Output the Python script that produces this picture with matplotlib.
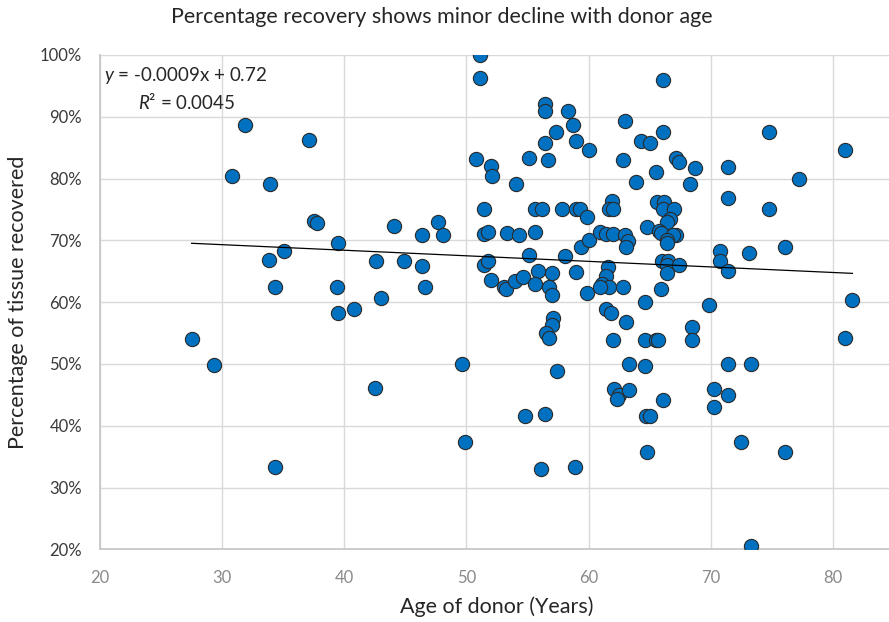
import numpy as np
import matplotlib.pyplot as plt
from matplotlib.ticker import PercentFormatter, MultipleLocator

plt.rcParams['font.family'] = ['Lato', 'DejaVu Sans']
plt.rcParams['mathtext.fontset'] = 'custom'
plt.rcParams['mathtext.rm'] = 'Lato'
plt.rcParams['mathtext.it'] = 'Lato:italic'

# donor age (years) and tissue recovered (%)
age = [
    27.5, 29.3, 30.8, 31.9, 33.8, 33.9, 34.3, 34.3, 35.1, 37.1,
    37.5, 37.8, 39.5, 39.4, 39.5, 40.8, 42.5, 42.6, 43.0, 44.1,
    44.9, 46.4, 46.4, 46.6, 47.7, 48.1, 49.6, 49.9,
    51.1, 51.1, 50.8, 52.0, 52.1, 54.1, 51.4, 51.4, 51.8, 53.3,
    54.3, 55.6, 51.4, 51.8, 52.0, 53.1, 53.2, 54.0, 54.6, 54.8,
    56.4, 56.4, 58.3, 58.7, 57.3, 56.4, 59.0, 60.0, 55.1, 56.7,
    55.6, 56.2, 57.8, 59.0, 59.3, 59.9, 55.1, 58.1, 55.9, 57.0,
    59.0, 55.6, 56.8, 57.0, 59.9, 59.4, 60.0, 57.1, 57.0, 56.5,
    56.8, 57.4, 56.4, 56.1, 58.9,
    66.1, 63.0, 66.1, 64.3, 65.0, 62.8, 67.2, 67.4, 68.7, 65.5,
    63.9, 68.3, 61.9, 61.7, 62.0, 60.9, 61.4, 62.0, 63.0, 63.2,
    63.1, 64.8, 65.6, 66.2, 66.1, 67.0, 66.7, 66.4, 65.8, 65.9,
    67.2, 66.9, 66.4, 66.4, 66.0, 66.5, 66.4, 67.4, 66.4, 65.9,
    61.6, 61.4, 61.1, 61.7, 60.9, 62.8, 64.6, 61.4, 61.8, 63.1,
    62.0, 64.6, 65.5, 65.7, 68.5, 68.5, 63.3, 64.6, 62.1, 62.5,
    62.3, 63.3, 66.1, 64.7, 65.0, 64.8, 69.9,
    74.8, 81.0, 71.4, 77.2, 71.4, 74.8, 76.1, 70.8, 70.8, 73.1,
    71.4, 81.6, 81.0, 71.4, 73.3, 70.3, 71.4, 70.3, 72.5, 76.1,
    73.3,
]
recovery = [
    54.1, 49.9, 80.4, 88.6, 66.9, 79.1, 62.4, 33.3, 68.3, 86.2,
    73.1, 72.8, 69.6, 62.5, 58.3, 58.9, 46.1, 66.7, 60.6, 72.3,
    66.7, 70.8, 65.8, 62.5, 72.9, 70.8, 50.0, 37.4,
    100.0, 96.2, 83.2, 82.0, 80.4, 79.2, 75.0, 71.0, 71.3, 71.2,
    70.9, 71.3, 66.0, 66.7, 63.6, 62.5, 62.1, 63.5, 64.0, 41.6,
    92.1, 90.9, 90.9, 88.7, 87.5, 85.7, 86.0, 84.6, 83.3, 83.0,
    75.0, 75.0, 75.0, 75.0, 75.0, 73.8, 67.7, 67.5, 65.1, 64.7,
    64.9, 63.0, 62.5, 61.2, 61.4, 69.0, 70.0, 57.4, 56.3, 55.0,
    54.2, 48.8, 41.9, 33.0, 33.3,
    96.0, 89.3, 87.5, 86.0, 85.7, 83.0, 83.3, 82.6, 81.7, 81.0,
    79.5, 79.2, 76.4, 75.0, 75.1, 71.3, 71.1, 71.0, 70.9, 69.9,
    68.9, 72.2, 76.2, 76.2, 75.0, 75.0, 73.5, 72.9, 71.5, 71.2,
    70.8, 70.8, 70.0, 69.5, 66.7, 66.7, 66.0, 66.0, 64.7, 62.2,
    65.7, 64.2, 63.0, 62.5, 62.4, 62.5, 60.0, 58.9, 58.3, 56.8,
    53.9, 53.9, 53.9, 53.9, 56.0, 53.9, 50.0, 49.7, 46.0, 45.0,
    44.4, 45.8, 44.2, 41.6, 41.6, 35.7, 59.6,
    87.5, 84.6, 81.9, 80.0, 76.8, 75.0, 69.0, 68.2, 66.7, 68.0,
    65.1, 60.4, 54.2, 50.0, 50.0, 46.0, 45.0, 43.0, 37.4, 35.7,
    20.5,
]

# linear trendline as reported
slope = -0.0009
intercept = 0.72

x = np.array(age)
y = np.array(recovery) / 100

fig = plt.figure(figsize=(8.89, 6.22), dpi=100)
ax = fig.add_axes([0.1125, 0.1169, 0.893, 0.7947])

ax.grid(True, color='#d9d9d9', linewidth=1.0, zorder=0)
ax.scatter(x, y, s=105, color='#0070c0', edgecolor='#2b2b2b', linewidth=0.8, zorder=3)

xt = np.array([x.min(), x.max()])
ax.plot(xt, slope * xt + intercept, color='black', linewidth=0.9, zorder=4)

ax.set_xlim(20, 85)
ax.set_ylim(0.2, 1.0)
ax.set_xticks(range(20, 81, 10))
ax.yaxis.set_major_locator(MultipleLocator(0.1))
ax.yaxis.set_major_formatter(PercentFormatter(1.0, decimals=0))

for s in ['top', 'right']:
    ax.spines[s].set_visible(False)
for s in ['left', 'bottom']:
    ax.spines[s].set_color('#c8c8c8')
    ax.spines[s].set_linewidth(1.3)
ax.tick_params(axis='x', length=0, labelsize=12, labelcolor='#8a8a8a', pad=15)
ax.tick_params(axis='y', length=0, labelsize=12, labelcolor='#3a3a3a', pad=13)

ax.set_xlabel('Age of donor (Years)', fontsize=15.5, color='#262626', va='center')
ax.set_ylabel('Percentage of tissue recovered', fontsize=15.5, color='#262626', va='center')
ax.xaxis.set_label_coords(0.5, -0.117)
ax.yaxis.set_label_coords(-0.103, 0.5)
fig.suptitle('Percentage recovery shows minor decline with donor age',
             fontsize=15.5, color='#262626', x=0.497, y=0.973, va='center')

ax.text(0.005, 0.9595, r'$\it{y}$ = -0.0009x + 0.72', transform=ax.transAxes,
        fontsize=13.5, color='#262626', va='center', ha='left')
ax.text(0.048, 0.9055, r'$\it{R}$² = 0.0045', transform=ax.transAxes,
        fontsize=13.5, color='#262626', va='center', ha='left')

fig.savefig('out.png', dpi=100)
